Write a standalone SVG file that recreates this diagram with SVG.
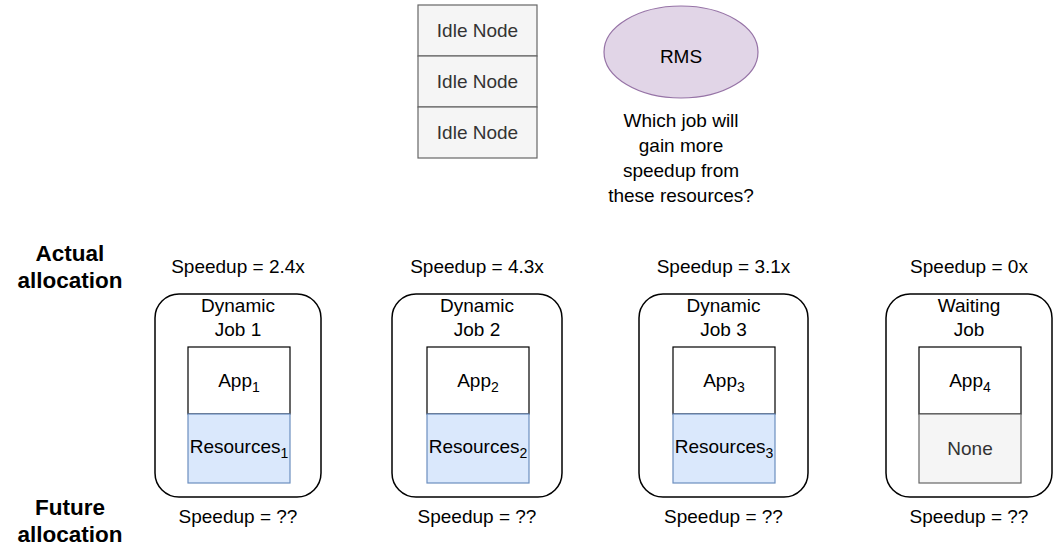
<svg xmlns="http://www.w3.org/2000/svg" width="1054" height="546" viewBox="0 0 1054 546">
<style>
text{font-family:"Liberation Sans",Arial,sans-serif;font-size:19px;fill:#000;text-anchor:middle}
.b{font-weight:bold;font-size:22.5px}
.g{fill:#333}
.idle{fill:#f5f5f5;stroke:#666;stroke-width:1.2}
.job{fill:#fff;stroke:#000;stroke-width:1.5}
.app{fill:#fff;stroke:#000;stroke-width:1.2}
.res{fill:#dae8fc;stroke:#6c8ebf;stroke-width:1.2}
.none{fill:#f5f5f5;stroke:#666;stroke-width:1.2}
.sub{font-size:14px}
</style>
<g id="idle-nodes">
<rect class="idle" x="418" y="5" width="119" height="51"/>
<text class="g" x="477.5" y="37">Idle Node</text>
<rect class="idle" x="418" y="56" width="119" height="51"/>
<text class="g" x="477.5" y="88">Idle Node</text>
<rect class="idle" x="418" y="107" width="119" height="51"/>
<text class="g" x="477.5" y="139">Idle Node</text>
</g>
<g id="rms">
<ellipse cx="681" cy="52" rx="77" ry="46" fill="#e1d5e7" stroke="#9673a6" stroke-width="1.2"/>
<text x="681" y="63">RMS</text>
<text x="681" y="127">Which job will</text>
<text x="681" y="152">gain more</text>
<text x="681" y="177">speedup from</text>
<text x="681" y="202">these resources?</text>
</g>
<g id="row-labels">
<text class="b" x="70" y="261">Actual</text>
<text class="b" x="70" y="288">allocation</text>
<text class="b" x="70" y="515">Future</text>
<text class="b" x="70" y="542">allocation</text>
</g>
<g id="job1">
<text x="238" y="273">Speedup = 2.4x</text>
<rect class="job" x="155" y="294" width="166" height="203" rx="24"/>
<text x="238" y="312">Dynamic</text>
<text x="238" y="336">Job 1</text>
<rect class="app" x="188" y="347" width="102" height="67"/>
<text x="239" y="387">App<tspan class="sub" dy="5">1</tspan></text>
<rect class="res" x="188" y="414" width="102" height="69"/>
<text x="239" y="453">Resources<tspan class="sub" dy="5">1</tspan></text>
<text x="238" y="523">Speedup = ??</text>
</g>
<g id="job2">
<text x="477" y="273">Speedup = 4.3x</text>
<rect class="job" x="392" y="294" width="170" height="203" rx="24"/>
<text x="477" y="312">Dynamic</text>
<text x="477" y="336">Job 2</text>
<rect class="app" x="427" y="347" width="102" height="67"/>
<text x="478" y="387">App<tspan class="sub" dy="5">2</tspan></text>
<rect class="res" x="427" y="414" width="102" height="69"/>
<text x="478" y="453">Resources<tspan class="sub" dy="5">2</tspan></text>
<text x="477" y="523">Speedup = ??</text>
</g>
<g id="job3">
<text x="723.5" y="273">Speedup = 3.1x</text>
<rect class="job" x="639" y="294" width="169" height="203" rx="24"/>
<text x="723.5" y="312">Dynamic</text>
<text x="723.5" y="336">Job 3</text>
<rect class="app" x="673" y="347" width="102" height="67"/>
<text x="724" y="387">App<tspan class="sub" dy="5">3</tspan></text>
<rect class="res" x="673" y="414" width="102" height="69"/>
<text x="724" y="453">Resources<tspan class="sub" dy="5">3</tspan></text>
<text x="723.5" y="523">Speedup = ??</text>
</g>
<g id="job4">
<text x="969" y="273">Speedup = 0x</text>
<rect class="job" x="886" y="294" width="166" height="203" rx="24"/>
<text x="969" y="312">Waiting</text>
<text x="969" y="336">Job</text>
<rect class="app" x="919" y="347" width="102" height="67"/>
<text x="970" y="387">App<tspan class="sub" dy="5">4</tspan></text>
<rect class="none" x="919" y="414" width="102" height="69"/>
<text class="g" x="970" y="455">None</text>
<text x="969" y="523">Speedup = ??</text>
</g>
<g id="connectors"/>
</svg>
